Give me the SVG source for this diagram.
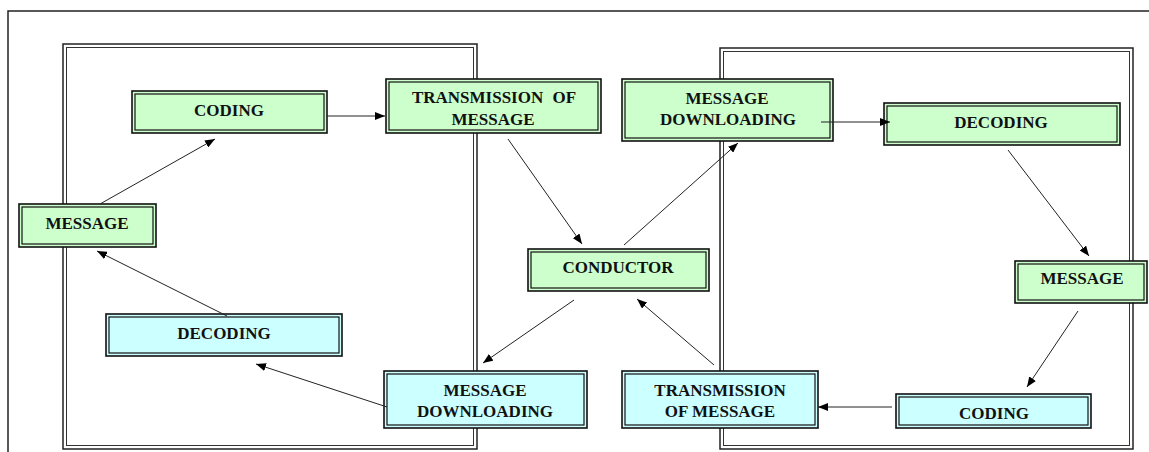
<svg xmlns="http://www.w3.org/2000/svg" width="1149" height="452" viewBox="0 0 1149 452">
<defs>
<style>
.frame{fill:none;stroke:#222;stroke-width:1.5}
.pin{fill:none;stroke:#333;stroke-width:1}
.o{stroke:#111;stroke-width:1.6}
.i{fill:none;stroke:#111;stroke-width:1.2}
.g{fill:#CCFFCC}
.c{fill:#CCFFFF}
.t{font-family:"Liberation Serif","Times New Roman",serif;font-weight:bold;font-size:17px;fill:#111;text-anchor:middle}
.e{stroke:#222;stroke-width:1;fill:none;marker-end:url(#ah)}
</style>
<marker id="ah" markerUnits="userSpaceOnUse" markerWidth="11" markerHeight="8" refX="10" refY="4" orient="auto">
<path d="M0,0 L10,4 L0,8 z" fill="#000"/>
</marker>
</defs>
<rect width="1149" height="452" fill="#fff"/>
<g id="frames">
<path class="frame" d="M8,452 V11 H1149"/>
<rect class="frame" x="63" y="44" width="414" height="405"/>
<rect class="pin" x="66.5" y="47.5" width="407" height="398"/>
<rect class="frame" x="720" y="48" width="413" height="401"/>
<rect class="pin" x="723.5" y="51.5" width="406" height="394"/>
</g>
<g id="n-left-coding"><rect class="o g" x="132" y="91" width="195" height="42"/><rect class="i" x="135" y="94" width="189" height="36"/><text class="t" x="229" y="116">CODING</text></g>
<g id="n-left-message"><rect class="o g" x="19" y="204" width="137" height="43"/><rect class="i" x="22" y="207" width="131" height="37"/><text class="t" x="87" y="229">MESSAGE</text></g>
<g id="n-top-transmission"><rect class="o g" x="386" y="79" width="215" height="54"/><rect class="i" x="389" y="82" width="209" height="48"/><text class="t" x="494" y="103" word-spacing="5">TRANSMISSION OF</text><text class="t" x="493" y="125">MESSAGE</text></g>
<g id="n-top-downloading"><rect class="o g" x="622" y="79" width="211" height="62"/><rect class="i" x="625" y="82" width="205" height="56"/><text class="t" x="727" y="104">MESSAGE</text><text class="t" x="728" y="125">DOWNLOADING</text></g>
<g id="n-right-decoding"><rect class="o g" x="884" y="103" width="236" height="42"/><rect class="i" x="887" y="106" width="230" height="36"/><text class="t" x="1001" y="128">DECODING</text></g>
<g id="n-conductor"><rect class="o g" x="528" y="249" width="181" height="42"/><rect class="i" x="531" y="252" width="175" height="36"/><text class="t" x="618" y="273">CONDUCTOR</text></g>
<g id="n-right-message"><rect class="o g" x="1015" y="261" width="132" height="42"/><rect class="i" x="1018" y="264" width="126" height="36"/><text class="t" x="1082" y="284">MESSAGE</text></g>
<g id="n-right-coding"><rect class="o c" x="896" y="394" width="195" height="34"/><rect class="i" x="899" y="397" width="189" height="28"/><text class="t" x="994" y="419">CODING</text></g>
<g id="n-bottom-transmission"><rect class="o c" x="622" y="371" width="196" height="57"/><rect class="i" x="625" y="374" width="190" height="51"/><text class="t" x="720" y="396">TRANSMISSION</text><text class="t" x="720" y="417">OF MESSAGE</text></g>
<g id="n-bottom-downloading"><rect class="o c" x="384" y="371" width="203" height="57"/><rect class="i" x="387" y="374" width="197" height="51"/><text class="t" x="485" y="396">MESSAGE</text><text class="t" x="485" y="417">DOWNLOADING</text></g>
<g id="n-left-decoding"><rect class="o c" x="106" y="314" width="236" height="42"/><rect class="i" x="109" y="317" width="230" height="36"/><text class="t" x="224" y="339">DECODING</text></g>
<g id="connectors">
<line class="e" x1="100" y1="204" x2="215" y2="139"/>
<line class="e" x1="327" y1="116" x2="385" y2="116"/>
<line class="e" x1="508" y1="139" x2="582" y2="244"/>
<line class="e" x1="624" y1="245" x2="738" y2="143"/>
<line class="e" x1="821" y1="122" x2="890" y2="122"/>
<line class="e" x1="1008" y1="150" x2="1089" y2="256"/>
<line class="e" x1="1078" y1="311" x2="1027" y2="387"/>
<line class="e" x1="892" y1="407" x2="818" y2="407"/>
<line class="e" x1="714" y1="365" x2="637" y2="299"/>
<line class="e" x1="574" y1="300" x2="483" y2="363"/>
<line class="e" x1="387" y1="407" x2="256" y2="364"/>
<line class="e" x1="227" y1="316" x2="97" y2="251"/>
</g>
</svg>
